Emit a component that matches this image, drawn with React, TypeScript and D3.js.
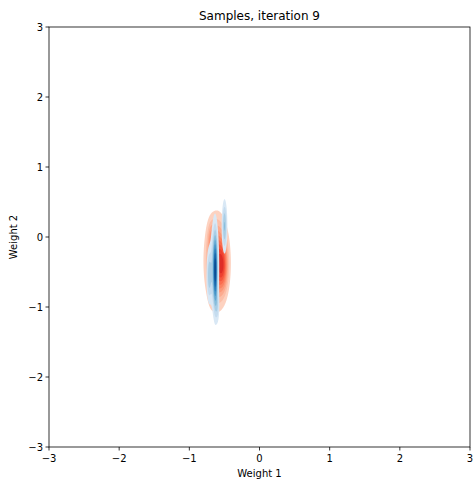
import React from "react";
import * as d3 from "d3";

// Axis ticks
const xTicks = [-3, -2, -1, 0, 1, 2, 3];
const yTicks = [-3, -2, -1, 0, 1, 2, 3];

// Density components: centre x, centre y, spread x, spread y, weight
const redCx = [-0.61, -0.52, -0.69, -0.68];
const redCy = [-0.35, -0.42, 0.0, -0.8];
const redSx = [0.092, 0.045, 0.035, 0.03];
const redSy = [0.35, 0.22, 0.15, 0.12];
const redW = [1.0, 0.45, 0.2, 0.15];

const blueCx = [-0.5, -0.632, -0.64, -0.72, -0.6];
const blueCy = [0.15, -0.5, -0.42, -0.55, -1.0];
const blueSx = [0.024, 0.018, 0.036, 0.024, 0.018];
const blueSy = [0.23, 0.33, 0.4, 0.24, 0.15];
const blueW = [0.45, 0.6, 0.5, 0.38, 0.2];

const W = 475, H = 484;
const left = 49, right = 470, top = 27, bottom = 447;

const gx0 = -1.2, gx1 = 0.0, gy0 = -1.8, gy1 = 1.0, step = 0.004;

function grid(cx: number[], cy: number[], sx: number[], sy: number[], w: number[]) {
  const n = Math.round((gx1 - gx0) / step);
  const m = Math.round((gy1 - gy0) / step);
  const values = new Float64Array(n * m);
  for (let j = 0; j < m; j++) {
    const y = gy0 + j * step;
    for (let i = 0; i < n; i++) {
      const x = gx0 + i * step;
      let v = 0;
      for (let k = 0; k < cx.length; k++) {
        const dx = (x - cx[k]) / sx[k];
        const dy = (y - cy[k]) / sy[k];
        v += w[k] * Math.exp(-0.5 * (dx * dx + dy * dy));
      }
      values[j * n + i] = v;
    }
  }
  return { n, m, values };
}

export default function App() {
  const xs = d3.scaleLinear().domain([-3, 3]).range([left, right]);
  const ys = d3.scaleLinear().domain([-3, 3]).range([bottom, top]);

  const proj = d3.geoTransform({
    point(this: any, x: number, y: number) {
      this.stream.point(xs(gx0 + x * step), ys(gy0 + y * step));
    },
  });
  const path = d3.geoPath(proj);

  const layers = (
    g: ReturnType<typeof grid>,
    interp: (t: number) => string,
    c0: number,
    c1: number
  ) => {
    const max = d3.max(g.values as any) as number;
    const nLev = 10;
    const th = d3.range(1, nLev).map((i) => (i / nLev) * max);
    const cs = d3.contours().size([g.n, g.m]).thresholds(th)(g.values as any);
    return cs.map((c, i) => ({ d: path(c as any) || "", fill: interp(c0 + (i / (nLev - 2)) * (c1 - c0)) }));
  };

  const red = layers(grid(redCx, redCy, redSx, redSy, redW), d3.interpolateReds, 0.17, 0.68);
  const blue = layers(grid(blueCx, blueCy, blueSx, blueSy, blueW), d3.interpolateBlues, 0.15, 0.9);

  const font = "DejaVu Sans, sans-serif";
  return (
    <svg width={W} height={H} style={{ position: "absolute", left: 0, top: 0 }}>
      <rect width={W} height={H} fill="#fff" />
      <defs>
        <clipPath id="clip">
          <rect x={left} y={top} width={right - left} height={bottom - top} />
        </clipPath>
      </defs>
      <g clipPath="url(#clip)">
        {red.map((l, i) => (
          <path key={"r" + i} d={l.d} fill={l.fill} stroke="none" />
        ))}
        {blue.map((l, i) => (
          <path key={"b" + i} d={l.d} fill={l.fill} stroke="none" />
        ))}
      </g>
      <rect x={left} y={top} width={right - left} height={bottom - top} fill="none" stroke="#000" strokeWidth={0.8} />
      {xTicks.map((t) => (
        <g key={"x" + t}>
          <line x1={xs(t)} x2={xs(t)} y1={bottom} y2={bottom + 3.5} stroke="#000" strokeWidth={0.8} />
          <text x={xs(t)} y={bottom + 15} fontSize={10} fontFamily={font} textAnchor="middle">
            {t < 0 ? "\u2212" + Math.abs(t) : String(t)}
          </text>
        </g>
      ))}
      {yTicks.map((t) => (
        <g key={"y" + t}>
          <line x1={left - 3.5} x2={left} y1={ys(t)} y2={ys(t)} stroke="#000" strokeWidth={0.8} />
          <text x={left - 6} y={ys(t)} dy="0.35em" fontSize={10} fontFamily={font} textAnchor="end">
            {t < 0 ? "\u2212" + Math.abs(t) : String(t)}
          </text>
        </g>
      ))}
      <text x={(left + right) / 2} y={bottom + 30} fontSize={10} fontFamily={font} textAnchor="middle">
        Weight 1
      </text>
      <text
        transform={`translate(${17},${(top + bottom) / 2}) rotate(-90)`}
        fontSize={10}
        fontFamily={font}
        textAnchor="middle"
      >
        Weight 2
      </text>
      <text x={(left + right) / 2} y={top - 7} fontSize={12} fontFamily={font} textAnchor="middle">
        Samples, iteration 9
      </text>
    </svg>
  );
}
